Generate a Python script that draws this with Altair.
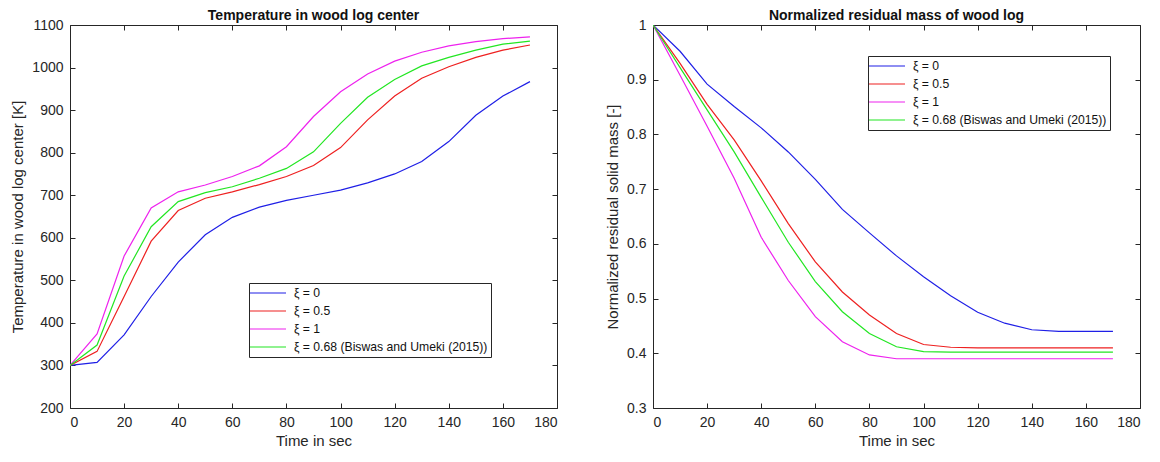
import altair as alt
import pandas as pd

# ---------------- data ----------------
time_s = [0, 10, 20, 30, 40, 50, 60, 70, 80, 90, 100, 110, 120, 130, 140, 150, 160, 170]

series_labels = ["ξ = 0", "ξ = 0.5", "ξ = 1", "ξ = 0.68 (Biswas and Umeki (2015))"]
series_colors = ["#1f1fe6", "#ee2020", "#ee22ee", "#22e622"]

# Temperature in wood log center [K]
temp_xi0 = [300, 307, 372, 462, 543, 607, 648, 672, 688, 700, 712, 729, 750, 779, 826, 888, 933, 967]
temp_xi05 = [300, 333, 462, 592, 664, 693, 708, 725, 744, 770, 812, 877, 933, 975, 1002, 1024, 1041, 1053]
temp_xi1 = [300, 374, 557, 670, 708, 724, 744, 769, 814, 885, 943, 985, 1015, 1036, 1051, 1061, 1068, 1072]
temp_xi068 = [300, 348, 510, 626, 685, 706, 720, 740, 763, 802, 869, 930, 972, 1004, 1024, 1041, 1055, 1062]

# Normalized residual solid mass [-]
mass_xi0 = [1.0, 0.952, 0.892, 0.851, 0.812, 0.768, 0.718, 0.663, 0.620, 0.578, 0.540, 0.505, 0.475, 0.455, 0.443, 0.440, 0.440, 0.440]
mass_xi05 = [1.0, 0.930, 0.855, 0.790, 0.715, 0.637, 0.567, 0.512, 0.470, 0.436, 0.416, 0.411, 0.410, 0.410, 0.410, 0.410, 0.410, 0.410]
mass_xi1 = [1.0, 0.908, 0.815, 0.720, 0.612, 0.533, 0.467, 0.421, 0.397, 0.390, 0.390, 0.390, 0.390, 0.390, 0.390, 0.390, 0.390, 0.390]
mass_xi068 = [1.0, 0.922, 0.845, 0.768, 0.685, 0.603, 0.531, 0.476, 0.436, 0.412, 0.403, 0.402, 0.402, 0.402, 0.402, 0.402, 0.402, 0.402]

x_ticks = [0, 20, 40, 60, 80, 100, 120, 140, 160, 180]
temp_ticks = [200, 300, 400, 500, 600, 700, 800, 900, 1000, 1100]
mass_ticks = [0.3, 0.4, 0.5, 0.6, 0.7, 0.8, 0.9, 1.0]


def long_df(arrays):
    rows = []
    for order, (label, arr) in enumerate(zip(series_labels, arrays)):
        for t, v in zip(time_s, arr):
            rows.append({"t": t, "series": label, "order": order, "v": v})
    return pd.DataFrame(rows)


temp_df = long_df([temp_xi0, temp_xi05, temp_xi1, temp_xi068])
mass_df = long_df([mass_xi0, mass_xi05, mass_xi1, mass_xi068])

FONT = "Liberation Sans"
AX = "#262626"


def panel(df, title, ytitle, ydomain, yticks, yformat, legend_x, legend_y, w):
    x_scale = alt.Scale(domain=[0, 180], nice=False)
    y_scale = alt.Scale(domain=ydomain, nice=False, zero=False)
    lines = alt.Chart(df).mark_line(strokeWidth=1.2, clip=True).encode(
        x=alt.X("t:Q", scale=x_scale,
                axis=alt.Axis(title="Time in sec", values=x_ticks, orient="bottom",
                              offset=-5, tickSize=5, labelPadding=7, titlePadding=4,
                              domain=False, grid=False, format="d")),
        y=alt.Y("v:Q", scale=y_scale,
                axis=alt.Axis(title=ytitle, values=yticks, orient="left",
                              offset=-5, tickSize=5, labelPadding=7, titlePadding=6,
                              domain=False, grid=False, format=yformat)),
        color=alt.Color("series:N",
                        scale=alt.Scale(domain=series_labels, range=series_colors),
                        sort=series_labels,
                        legend=alt.Legend(title=None, orient="none", direction="vertical",
                                          legendX=legend_x, legendY=legend_y,
                                          symbolType="M-3,0H3", symbolSize=144,
                                          symbolOffset=9, labelOffset=19,
                                          symbolStrokeWidth=1.2, labelFontSize=12.2,
                                          labelFont=FONT, labelColor="#111111",
                                          labelLimit=400,
                                          strokeColor=AX, fillColor="white",
                                          padding=3, rowPadding=4)),
        detail="series:N",
    )
    frame = alt.Chart(df).mark_line(opacity=0).encode(
        x=alt.X("t:Q", scale=x_scale,
                axis=alt.Axis(title=None, values=x_ticks, orient="top", offset=-5,
                              tickSize=5, labels=False, domain=False, grid=False,
                              minExtent=0, maxExtent=0)),
        y=alt.Y("v:Q", scale=y_scale,
                axis=alt.Axis(title=None, values=yticks, orient="right", offset=-5,
                              tickSize=5, labels=False, domain=False, grid=False,
                              minExtent=0, maxExtent=0)),
    )
    return alt.layer(lines, frame).resolve_axis(x="independent", y="independent").properties(
        width=w, height=383,
        title=alt.TitleParams(title, fontSize=14, fontWeight="bold", font=FONT,
                              anchor="middle", offset=-5, color="#111111"),
    )


left = panel(temp_df, "Temperature in wood log center", "Temperature in wood log center [K]",
             [200, 1100], temp_ticks, "d", 179, 258, 487)
right = panel(mass_df, "Normalized residual mass of wood log", "Normalized residual solid mass [-]",
              [0.3, 1.0], mass_ticks, "~g", 215, 31, 487)

chart = alt.hconcat(left, right, spacing=47).resolve_scale(color="independent").properties(
    padding={"left": 2, "top": 0, "right": 0, "bottom": 0},
    background="white",
).configure_view(
    stroke=AX, strokeWidth=1
).configure_axis(
    labelFont=FONT, titleFont=FONT, labelFontSize=14, titleFontSize=15,
    titleFontWeight="normal", labelColor=AX, titleColor=AX, tickColor=AX, tickWidth=1
)

chart.save("out.html", embed_options={"renderer": "svg", "actions": False})
